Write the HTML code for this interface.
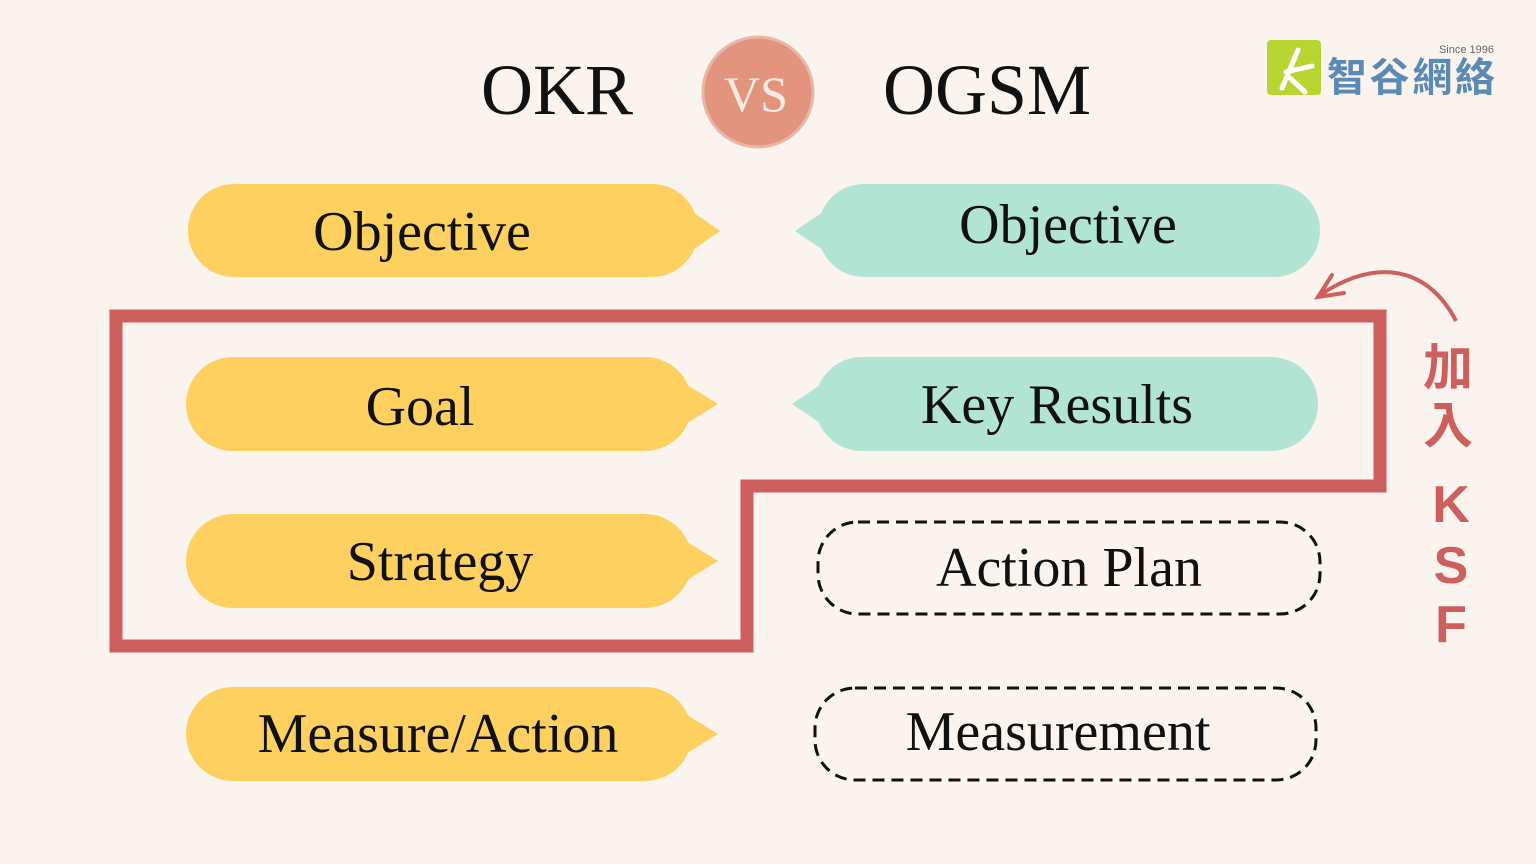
<!DOCTYPE html>
<html><head><meta charset="utf-8"><style>
html,body{margin:0;padding:0;background:#faf3ee;width:1536px;height:864px;overflow:hidden}
.s{font-family:"Liberation Serif",serif}
.k{font-family:"Liberation Sans","Noto Sans CJK TC",sans-serif;font-weight:bold}
</style></head><body>
<svg width="1536" height="864" viewBox="0 0 1536 864" xmlns="http://www.w3.org/2000/svg">
<rect width="1536" height="864" fill="#faf3ee"/>
<text class="s" x="557" y="114" font-size="72" text-anchor="middle" fill="#111">OKR</text>
<circle cx="758" cy="92" r="55" fill="#e2947f" stroke="#eab6a6" stroke-width="3"/>
<text class="s" x="756" y="111" font-size="50" text-anchor="middle" fill="#fbe9e2">VS</text>
<text class="s" x="987" y="114" font-size="72" text-anchor="middle" fill="#111">OGSM</text>
<!-- logo -->
<rect x="1267" y="40" width="54" height="55" rx="4" fill="#b9d531"/>
<path d="M1282 88 L1298 50 M1286 72 L1312 66 M1290 78 L1305 92" stroke="#fff" stroke-width="5" fill="none" stroke-linecap="round"/>
<text x="1494" y="53" font-size="11" text-anchor="end" fill="#666" style="font-family:'Liberation Sans',sans-serif">Since 1996</text>
<text class="k" x="1327" y="91" font-size="40" fill="#5b8ab5" textLength="168">智谷網絡</text>
<!-- red frame -->
<polygon points="116,316 1380,316 1380,486 747,486 747,646 116,646" fill="none" stroke="#cd5f5e" stroke-width="13"/>
<g fill="#fdd05f">
<rect x="188" y="184" width="510" height="93" rx="46"/><polygon points="690,210 720,231 690,252"/>
<rect x="186" y="357" width="506" height="94" rx="47"/><polygon points="684,383 718,404 684,425"/>
<rect x="186" y="514" width="506" height="94" rx="47"/><polygon points="684,540 718,561 684,582"/>
<rect x="186" y="687" width="506" height="94" rx="47"/><polygon points="684,713 718,734 684,755"/>
</g>
<g fill="#b2e4d4">
<rect x="818" y="184" width="502" height="93" rx="46"/><polygon points="826,210 795,231 826,252"/>
<rect x="815" y="357" width="503" height="94" rx="47"/><polygon points="823,383 792,404 823,425"/>
</g>
<g fill="none" stroke="#111" stroke-width="3" stroke-dasharray="12,7">
<rect x="818" y="522" width="502" height="92" rx="40"/>
<rect x="815" y="688" width="501" height="92" rx="40"/>
</g>
<g class="s" font-size="56" text-anchor="middle" fill="#111">
<text class="s" x="422" y="250">Objective</text>
<text class="s" x="420" y="425">Goal</text>
<text class="s" x="440" y="580">Strategy</text>
<text class="s" x="438" y="752">Measure/Action</text>
<text class="s" x="1068" y="243">Objective</text>
<text class="s" x="1057" y="423">Key Results</text>
<text class="s" x="1069" y="586">Action Plan</text>
<text class="s" x="1058" y="750">Measurement</text>
</g>
<path d="M1456 321 C1430 270 1380 255 1320 295" fill="none" stroke="#cd5f5e" stroke-width="4"/>
<path d="M1332 275 L1318 297 L1344 293" fill="none" stroke="#cd5f5e" stroke-width="4" stroke-linecap="round"/>
<g fill="#cd5f5e" text-anchor="middle">
<text class="k" x="1448" y="385" font-size="50">加</text>
<text class="k" x="1448" y="443" font-size="50">入</text>
<text class="k" x="1451" y="522" font-size="52">K</text>
<text class="k" x="1451" y="583" font-size="52">S</text>
<text class="k" x="1451" y="642" font-size="52">F</text>
</g>
</svg>
</body></html>
